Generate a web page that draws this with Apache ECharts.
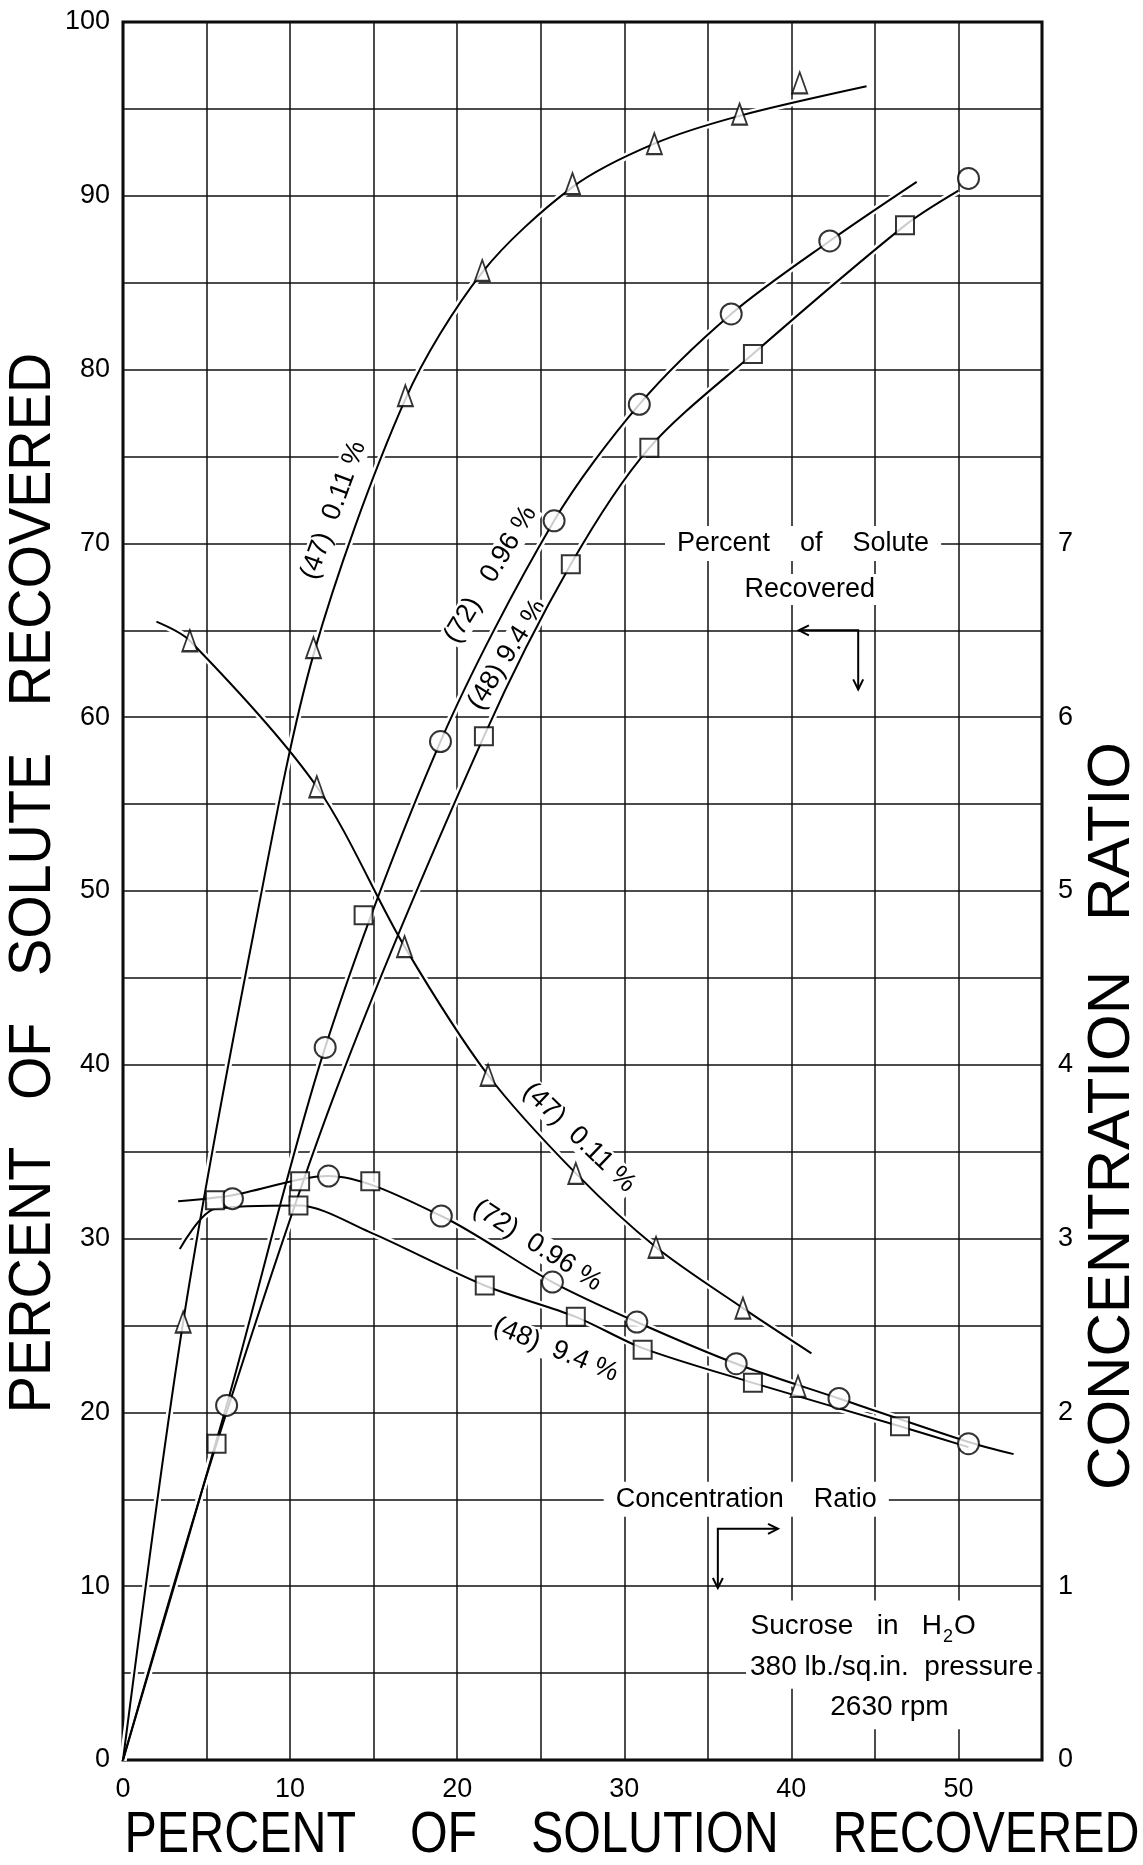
<!DOCTYPE html>
<html><head><meta charset="utf-8">
<script src="https://cdn.jsdelivr.net/npm/echarts@6/dist/echarts.min.js"></script>
<style>html,body{margin:0;padding:0;background:#fff}#c{width:1143px;height:1865px}</style>
</head><body><div id="c"></div>
<script>
// ---------- tick labels ----------
const xTickLabels = [0, 10, 20, 30, 40, 50];
const soluteTickLabels = [0, 10, 20, 30, 40, 50, 60, 70, 80, 90, 100];
const ratioTickLabels = [0, 1, 2, 3, 4, 5, 6, 7];

// ---------- Percent of solute recovered (left axis) ----------
// (47) 0.11 % : triangles
const solute47Points = [[3.6,25.2],[11.4,64.0],[16.9,78.5],[21.5,85.7],[26.9,90.7],[31.8,93.0],[36.9,94.7],[40.5,96.5]];
const solute47Curve = [[0,0],[3.6,25.2],[7.8,47.5],[11.4,63.6],[16.9,78.3],[21.5,85.6],[26.9,90.5],[31.8,93.0],[36.9,94.6],[44.5,96.3]];
// (72) 0.96 % : circles
const solute72Points = [[6.2,20.4],[12.1,41.0],[19.0,58.6],[25.8,71.3],[30.9,78.0],[36.4,83.2],[42.3,87.4],[50.6,91.0]];
const solute72Curve = [[0,0],[6.2,20.4],[12.1,41.0],[19.0,58.6],[25.8,71.3],[30.9,78.0],[36.4,83.2],[42.3,87.4],[47.5,90.8]];
// (48) 9.4 % : squares
const solute48Points = [[5.6,18.2],[14.4,48.6],[21.6,58.9],[26.8,68.8],[31.5,75.5],[37.7,80.9],[46.8,88.3]];
const solute48Curve = [[0,0],[5.6,18.2],[12.7,38.4],[21.6,58.9],[26.8,68.8],[31.5,75.5],[37.7,80.9],[46.8,88.3],[50.0,90.3]];

// ---------- Concentration ratio (right axis) ----------
const ratio47Points = [[4.0,6.44],[11.6,5.60],[16.85,4.68],[21.85,3.94],[27.1,3.375],[31.9,2.95],[37.1,2.60],[40.4,2.15]];
const ratio47Curve = [[2.0,6.55],[4.0,6.44],[11.6,5.60],[16.85,4.68],[21.85,3.94],[27.1,3.375],[31.9,2.95],[37.1,2.60],[41.2,2.34]];
const ratio72Points = [[6.55,3.23],[12.3,3.36],[19.05,3.13],[25.7,2.75],[30.75,2.52],[36.7,2.28],[42.85,2.08],[50.6,1.82]];
const ratio72Curve = [[3.3,3.215],[6.55,3.25],[12.3,3.36],[19.05,3.13],[25.7,2.75],[30.75,2.52],[36.7,2.28],[42.85,2.08],[50.6,1.83],[53.3,1.76]];
const ratio48Points = [[5.5,3.22],[10.5,3.19],[10.6,3.33],[14.8,3.33],[21.65,2.73],[27.1,2.55],[31.1,2.36],[37.7,2.17],[46.5,1.92]];
const ratio48Curve = [[3.4,2.94],[5.5,3.17],[10.5,3.19],[14.7,3.04],[21.65,2.73],[27.1,2.55],[31.1,2.37],[37.7,2.17],[46.5,1.92],[50.6,1.80]];

// ---------- chart ----------
const FONT = "'Liberation Sans', Arial, sans-serif";
const chart = echarts.init(document.getElementById('c'));

function curve(data, yIdx) {
  return [
    {type:'line', data, yAxisIndex:yIdx, smooth:0.3, symbol:'none', silent:true,
     lineStyle:{color:'#fff', width:7}, z:2},
    {type:'line', data, yAxisIndex:yIdx, smooth:0.3, symbol:'none', silent:true,
     lineStyle:{color:'#000', width:2}, z:3}
  ];
}
function marks(data, yIdx, symbol, size) {
  return {type:'scatter', data, yAxisIndex:yIdx, symbol, symbolSize:size, silent:true,
    itemStyle:{color:'#fff', borderColor:'#000', borderWidth:2}, z:6};
}
const TRI = [15, 21], CIR = 21, SQ = 18;

const option = {
  animation:false,
  backgroundColor:'#fff',
  grid:{left:123, top:22, width:919, height:1738, show:true, borderColor:'#000', borderWidth:3, backgroundColor:'rgba(0,0,0,0)'},
  xAxis:{type:'value', min:0, max:55, interval:5,
    axisLine:{show:false}, axisTick:{show:false},
    splitLine:{show:true, lineStyle:{color:'#111', width:1.5}},
    axisLabel:{formatter:v => xTickLabels.includes(v) ? String(v) : '', fontSize:27, color:'#000', margin:16, fontFamily:FONT}},
  yAxis:[
    {type:'value', min:0, max:100, interval:5, position:'left',
     axisLine:{show:false}, axisTick:{show:false},
     splitLine:{show:true, lineStyle:{color:'#111', width:1.5}},
     axisLabel:{formatter:v => soluteTickLabels.includes(v) ? String(v) : '', fontSize:27, color:'#000', margin:13, fontFamily:FONT}},
    {type:'value', min:0, max:10, interval:1, position:'right',
     axisLine:{show:false}, axisTick:{show:false}, splitLine:{show:false},
     axisLabel:{formatter:v => ratioTickLabels.includes(v) ? String(v) : '', fontSize:27, color:'#000', margin:16, fontFamily:FONT}}
  ],
  series:[
    ...curve(solute47Curve,0), ...curve(solute72Curve,0), ...curve(solute48Curve,0),
    ...curve(ratio47Curve,1), ...curve(ratio72Curve,1), ...curve(ratio48Curve,1),
    marks(solute47Points,0,'triangle',TRI), marks(solute72Points,0,'circle',CIR), marks(solute48Points,0,'rect',SQ),
    marks(ratio47Points,1,'triangle',TRI), marks(ratio72Points,1,'circle',CIR), marks(ratio48Points,1,'rect',SQ)
  ]
};
chart.setOption(option);

// ---------- annotations (anchored in data units of the left axis) ----------
const P = (x, y) => chart.convertToPixel({gridIndex:0}, [x, y]);
function note(text, x, y, rotDeg, size, extra) {
  const [px, py] = P(x, y);
  return {type:'text', x:px, y:py, rotation:rotDeg*Math.PI/180, z:1,
    style:Object.assign({text, fontSize:size, fontFamily:FONT, fill:'#000', align:'center', verticalAlign:'middle',
      backgroundColor:'#fff', padding:[2,6]}, extra || {})};
}
function title(text, x, y, rotDeg, size, sx) {
  return {type:'text', x, y, rotation:rotDeg*Math.PI/180, scaleX:sx, scaleY:1, z:10,
    style:{text, fontSize:size, fontFamily:FONT, fill:'#000', align:'center', verticalAlign:'middle'}};
}
function arrowHead(tip, dir) { // dir: 'left','right','down'
  const [x, y] = tip, L = 10, W = 5;
  let pts;
  if (dir === 'left') pts = [[x+L, y-W],[x, y],[x+L, y+W]];
  else if (dir === 'right') pts = [[x-L, y-W],[x, y],[x-L, y+W]];
  else pts = [[x-W, y-L],[x, y],[x+W, y-L]];
  return {type:'polyline', z:5, shape:{points:pts}, style:{stroke:'#000', lineWidth:2, fill:null}};
}
function path(points) {
  return {type:'polyline', z:5, shape:{points:points.map(p => P(p[0], p[1]))}, style:{stroke:'#000', lineWidth:2, fill:null}};
}

const graphics = [
  // curve labels, percent of solute recovered
  note('(47)  0.11 %', 12.6, 71.9, 70, 27, {padding:[0,2]}),
  note('(72)   0.96 %', 22.0, 68.2, 59, 27, {padding:[0,2]}),
  note('(48) 9.4 %', 23.0, 63.6, 58, 27, {padding:[0,2]}),
  // curve labels, concentration ratio
  note('(47)  0.11 %', 27.3, 35.8, -44, 27, {padding:[0,2]}),
  note('(72)  0.96 %', 24.8, 29.6, -32.5, 27, {padding:[0,2]}),
  note('(48)  9.4 %', 25.9, 23.6, -22, 27, {padding:[0,2]}),
  // legend-like notes
  note('Percent    of    Solute', 40.7, 70.0, 0, 27, {padding:[4,12]}),
  note('Recovered', 41.1, 67.35, 0, 27, {padding:[2,8]}),
  note('Concentration    Ratio', 37.3, 15.0, 0, 27, {padding:[4,12]}),
  path([[40.45,65.0],[44.0,65.0],[44.0,61.6]]),
  arrowHead(P(40.45,65.0), 'left'),
  arrowHead(P(44.0,61.6), 'down'),
  path([[35.6,9.9],[35.6,13.3],[39.2,13.3]]),
  arrowHead(P(39.2,13.3), 'right'),
  arrowHead(P(35.6,9.9), 'down'),
  (() => { const [px, py] = P(44.3, 7.8); return {type:'text', x:px, y:py, z:1,
      style:{text:'{a|Sucrose   in   H}{s|2}{a|O}', align:'center', verticalAlign:'middle', fill:'#000',
        backgroundColor:'#fff', padding:[8,14],
        rich:{a:{fontSize:28, fontFamily:FONT, lineHeight:32, verticalAlign:'bottom'},
              s:{fontSize:18, fontFamily:FONT, lineHeight:32, verticalAlign:'bottom', padding:[0,1,-6,1]}}}}; })(),
  note('380 lb./sq.in.  pressure', 46.0, 5.36, 0, 28, {padding:[8,4]}),
  note('2630 rpm', 45.87, 3.04, 0, 28, {padding:[8,14]}),
  // axis titles
  title('PERCENT   OF   SOLUTE   RECOVERED', 33, 883, 90, 60, 0.93),
  title('PERCENT    OF    SOLUTION    RECOVERED', 632, 1836, 0, 57, 0.85),
  title('CONCENTRATION   RATIO', 1112, 1116, 90, 60, 1.0)
];
chart.setOption({graphic:{elements:graphics}});
</script>
</body></html>
